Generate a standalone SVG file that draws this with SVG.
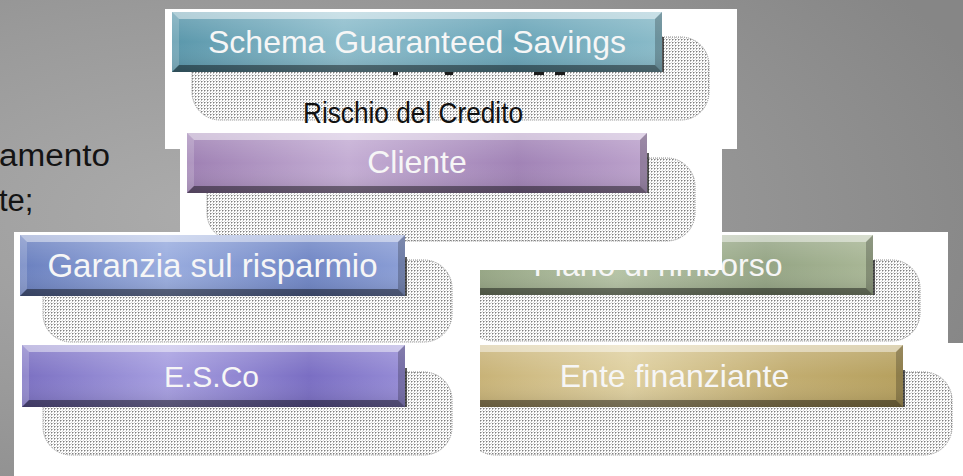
<svg xmlns="http://www.w3.org/2000/svg" width="963" height="476" viewBox="0 0 963 476">
<defs>
<style>
.lbl{font-family:"Liberation Sans",Arial,sans-serif;font-size:32px;fill:#f6f6f6;text-anchor:middle}
.bg-t{font-family:"Liberation Sans",Arial,sans-serif;font-size:31px;fill:#141414}
.sh{fill:url(#dots);stroke:#8a8a8a;stroke-width:1;stroke-dasharray:1 1}
.bt{fill:#ffffff;fill-opacity:.45}
.bl{fill:#ffffff;fill-opacity:.18}
.bb{fill:#000000;fill-opacity:.42}
.br{fill:#000000;fill-opacity:.22}
.edge{fill:#222;fill-opacity:.75}
.vg{fill:url(#vgl)}
.panel{fill:#ffffff}
</style>
<radialGradient id="bgg" cx="0.22" cy="0.45" r="0.85">
<stop offset="0" stop-color="#acacac"/>
<stop offset="0.5" stop-color="#9a9a9a"/>
<stop offset="1" stop-color="#868686"/>
</radialGradient>
<pattern id="dots" width="3" height="3" patternUnits="userSpaceOnUse">
<rect width="3" height="3" fill="#ffffff"/>
<rect width="1" height="1" fill="#7e7e7e"/>
<rect x="1" width="1" height="1" fill="#bdbdbd"/>
<rect y="1" width="1" height="1" fill="#bdbdbd"/>
<rect x="2" y="2" width="1" height="1" fill="#d6d6d6"/>
</pattern>
<linearGradient id="vgl" x1="0" y1="0" x2="0" y2="1">
<stop offset="0" stop-color="#fff" stop-opacity=".18"/>
<stop offset="0.5" stop-color="#fff" stop-opacity="0"/>
<stop offset="1" stop-color="#000" stop-opacity=".12"/>
</linearGradient>
<linearGradient id="gTeal" x1="0" y1="0" x2="1" y2="0">
<stop offset="0" stop-color="#5a97ab"/><stop offset="0.35" stop-color="#8dbdcc"/><stop offset="0.7" stop-color="#6aa5b8"/><stop offset="1" stop-color="#8abbc9"/>
</linearGradient>
<linearGradient id="gPurple" x1="0" y1="0" x2="1" y2="0">
<stop offset="0" stop-color="#9e80b3"/><stop offset="0.35" stop-color="#c4add4"/><stop offset="0.72" stop-color="#a183b6"/><stop offset="1" stop-color="#bca2cc"/>
</linearGradient>
<linearGradient id="gBlue" x1="0" y1="0" x2="1" y2="0">
<stop offset="0" stop-color="#6a80bf"/><stop offset="0.38" stop-color="#9aaddf"/><stop offset="0.75" stop-color="#7086c5"/><stop offset="1" stop-color="#8c9fd6"/>
</linearGradient>
<linearGradient id="gViolet" x1="0" y1="0" x2="1" y2="0">
<stop offset="0" stop-color="#7b70c2"/><stop offset="0.38" stop-color="#a69ee0"/><stop offset="0.75" stop-color="#7a6ec3"/><stop offset="1" stop-color="#968cd6"/>
</linearGradient>
<linearGradient id="gGreen" x1="0" y1="0" x2="1" y2="0">
<stop offset="0" stop-color="#8e9e7c"/><stop offset="0.4" stop-color="#b6c4a6"/><stop offset="0.75" stop-color="#95a585"/><stop offset="1" stop-color="#a9b796"/>
</linearGradient>
<linearGradient id="gGold" x1="0" y1="0" x2="1" y2="0">
<stop offset="0" stop-color="#c3ac6e"/><stop offset="0.4" stop-color="#dfd0a0"/><stop offset="0.75" stop-color="#c2ad70"/><stop offset="1" stop-color="#b6a05e"/>
</linearGradient>
<clipPath id="rightClip">
<rect x="480" y="270" width="483" height="206"/>
<rect x="722" y="232" width="241" height="40"/>
</clipPath>
</defs>

<rect width="963" height="476" fill="url(#bgg)"/>
<text class="bg-t" x="-1" y="166" textLength="111" lengthAdjust="spacingAndGlyphs">amento</text>
<text class="bg-t" x="-1" y="211">te;</text>

<rect class="panel" x="14" y="232" width="934" height="244"/>
<rect class="panel" x="948" y="343" width="15" height="133"/>
<rect class="panel" x="180" y="149" width="542" height="83"/>
<rect class="panel" x="165" y="9" width="572" height="140"/>

<g id="connectors"></g>

<g id="node-piano" clip-path="url(#rightClip)">
<rect class="sh" x="466" y="260" width="454" height="81" rx="28"/>
<rect x="445" y="235" width="428" height="60" fill="url(#gGreen)"/>
<rect class="vg" x="445" y="235" width="428" height="60"/>
<polygon class="bt" points="445,235 873,235 866,242 452,242"/>
<polygon class="bl" points="445,235 452,242 452,288 445,295"/>
<polygon class="bb" points="445,295 452,288 866,288 873,295"/>
<polygon class="br" points="873,235 873,295 866,288 866,242"/>
<rect class="edge" x="873" y="260" width="2" height="35"/>
<text class="lbl" x="658" y="276">Piano di rimborso</text>
</g>

<g id="node-ente" clip-path="url(#rightClip)">
<rect class="sh" x="467" y="372" width="485" height="83" rx="28"/>
<rect x="446" y="345" width="457" height="62" fill="url(#gGold)"/>
<rect class="vg" x="446" y="345" width="457" height="62"/>
<polygon class="bt" points="446,345 903,345 896,352 453,352"/>
<polygon class="bl" points="446,345 453,352 453,400 446,407"/>
<polygon class="bb" points="446,407 453,400 896,400 903,407"/>
<polygon class="br" points="903,345 903,407 896,400 896,352"/>
<rect class="edge" x="903" y="370" width="2" height="37"/>
<text class="lbl" x="674.5" y="387">Ente finanziante</text>
</g>

<g id="node-schema">
<rect class="sh" x="192" y="37" width="517" height="83" rx="28"/>
<rect x="393" y="72" width="5" height="3" fill="#1c1c1c"/>
<rect x="445" y="72" width="8" height="3" fill="#1c1c1c"/>
<rect x="534" y="72" width="10" height="3" fill="#1c1c1c"/>
<rect x="555" y="72" width="10" height="3" fill="#1c1c1c"/>
<rect x="172" y="12" width="490" height="60" fill="url(#gTeal)"/>
<rect class="vg" x="172" y="12" width="490" height="60"/>
<polygon class="bt" points="172,12 662,12 655,19 179,19"/>
<polygon class="bl" points="172,12 179,19 179,65 172,72"/>
<polygon class="bb" points="172,72 179,65 655,65 662,72"/>
<polygon class="br" points="662,12 662,72 655,65 655,19"/>
<rect class="edge" x="662" y="37" width="2" height="35"/>
<text class="lbl" x="417" y="53">Schema Guaranteed Savings</text>
<text x="303" y="123" textLength="220" lengthAdjust="spacingAndGlyphs" style="font-family:'Liberation Sans',Arial,sans-serif;font-size:29px;fill:#111">Rischio del Credito</text>
</g>

<g id="node-cliente">
<rect class="sh" x="207" y="158" width="488" height="83" rx="28"/>
<rect x="187" y="133" width="460" height="60" fill="url(#gPurple)"/>
<rect class="vg" x="187" y="133" width="460" height="60"/>
<polygon class="bt" points="187,133 647,133 640,140 194,140"/>
<polygon class="bl" points="187,133 194,140 194,186 187,193"/>
<polygon class="bb" points="187,193 194,186 640,186 647,193"/>
<polygon class="br" points="647,133 647,193 640,186 640,140"/>
<rect class="edge" x="647" y="153" width="2" height="40"/>
<text class="lbl" x="417" y="173">Cliente</text>
</g>

<g id="node-garanzia">
<rect class="sh" x="43" y="260" width="409" height="82" rx="28"/>
<rect x="20" y="235" width="385" height="61" fill="url(#gBlue)"/>
<rect class="vg" x="20" y="235" width="385" height="61"/>
<polygon class="bt" points="20,235 405,235 398,242 27,242"/>
<polygon class="bl" points="20,235 27,242 27,289 20,296"/>
<polygon class="bb" points="20,296 27,289 398,289 405,296"/>
<polygon class="br" points="405,235 405,296 398,289 398,242"/>
<rect class="edge" x="405" y="257" width="2" height="39"/>
<text class="lbl" x="212.5" y="277" style="font-size:33px">Garanzia sul risparmio</text>
</g>

<g id="node-esco">
<rect class="sh" x="43" y="372" width="409" height="83" rx="28"/>
<rect x="22" y="345" width="383" height="62" fill="url(#gViolet)"/>
<rect class="vg" x="22" y="345" width="383" height="62"/>
<polygon class="bt" points="22,345 405,345 398,352 29,352"/>
<polygon class="bl" points="22,345 29,352 29,400 22,407"/>
<polygon class="bb" points="22,407 29,400 398,400 405,407"/>
<polygon class="br" points="405,345 405,407 398,400 398,352"/>
<rect class="edge" x="405" y="368" width="2" height="39"/>
<text class="lbl" x="211.5" y="387" style="font-size:30px">E.S.Co</text>
</g>
</svg>
